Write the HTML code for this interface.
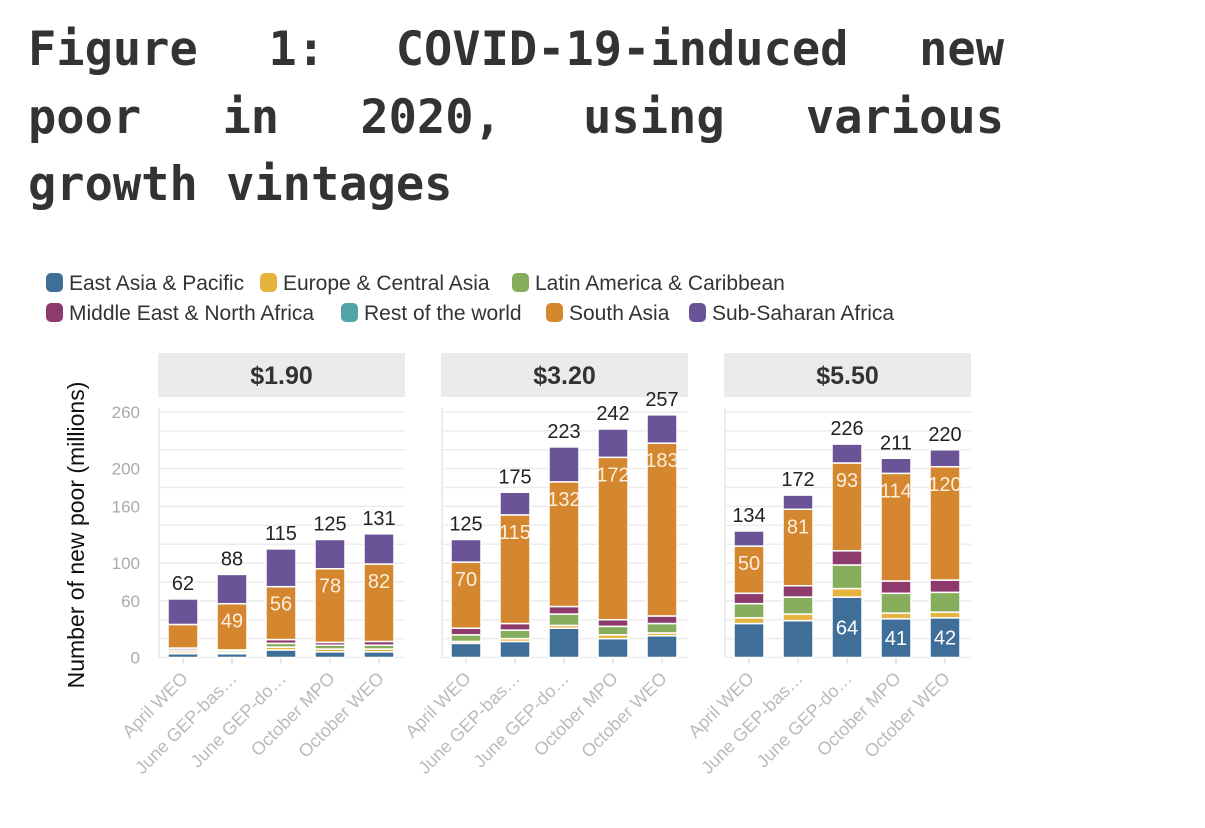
<!DOCTYPE html>
<html><head><meta charset="utf-8">
<style>
body{margin:0;background:#fff;width:1205px;height:828px;overflow:hidden;font-family:"Liberation Sans",sans-serif;}
.tl{position:absolute;left:28px;width:976px;font-family:"DejaVu Sans Mono",monospace;font-weight:bold;font-size:47px;color:#333;white-space:nowrap;}
.j{text-align:justify;text-align-last:justify;}
</style></head><body>
<div>
<div class="tl j" style="top:22px">Figure 1: COVID-19-induced new</div>
<div class="tl j" style="top:90px">poor in 2020, using various</div>
<div class="tl" style="top:157px">growth vintages</div>
</div>
<svg id="c" width="1205" height="828" style="position:absolute;left:0;top:0"></svg>
<script>
const regions=["East Asia & Pacific","Europe & Central Asia","Latin America & Caribbean","Middle East & North Africa","Rest of the world","South Asia","Sub-Saharan Africa"];
const colors=["#3f6f98","#e6b33f","#85ad5c","#8d3b6c","#52a3a6","#d5872f","#6a5397"];
const panels=["$1.90","$3.20","$5.50"];
const categories=["April WEO","June GEP-bas…","June GEP-do…","October MPO","October WEO"];
// values[panel][category]
const eap=[[4,4,8,6,6],[15,17,31,20,23],[36,39,64,41,42]];
const eca=[[2,1,3,3,3],[2,3,3,4,3],[6,7,9,6,6]];
const lac=[[2,2,4,4,4],[7,9,12,9,10],[15,18,25,21,21]];
const mena=[[2,1,4,3,4],[7,7,8,7,8],[11,12,15,13,13]];
const row=[[0,0,0,0,0],[0,0,0,0,0],[0,0,0,0,0]];
const sa=[[25,49,56,78,82],[70,115,132,172,183],[50,81,93,114,120]];
const ssa=[[27,31,40,31,32],[24,24,37,30,30],[16,15,20,16,18]];
const yTicks=[0,60,100,160,200,260];
const saLabelShown=[[0,1,1,1,1],[1,1,1,1,1],[1,1,1,1,1]];
const eapLabelShown=[[0,0,0,0,0],[0,0,0,0,0],[0,0,1,1,1]];
const series=[eap,eca,lac,mena,row,sa,ssa];

const NS="http://www.w3.org/2000/svg";
const svg=document.getElementById('c');
function mk(t,a,p){const e=document.createElementNS(NS,t);for(const k in a)e.setAttribute(k,a[k]);(p||svg).appendChild(e);return e;}
const y0=657.5,yTop=412,yMax=260;
function y(v){return y0-(v/yMax)*(y0-yTop);}
const panelX=[158,441,724],panelW=247;
function x(p,i){return panelX[p]+25+i*49;}
const bw=30;

const legPos=[[46,283],[260,283],[512,283],[46,313],[341,313],[546,313],[689,313]];
regions.forEach((r,i)=>{
  const g=mk('g',{});
  
  
  mk('rect',{x:legPos[i][0],y:legPos[i][1]-10,width:17,height:19,rx:5,fill:colors[i]},g);
  const t=mk('text',{x:legPos[i][0]+23,y:legPos[i][1]+7,'font-size':21,fill:'#333','font-family':'Liberation Sans, sans-serif'},g);
  t.textContent=r;
});

const yt=mk('text',{x:0,y:0,transform:'translate(84,535) rotate(-90)','text-anchor':'middle','font-size':23,fill:'#111'});


yt.textContent='Number of new poor (millions)';

yTicks.forEach(v=>{
  const t=mk('text',{x:140,y:y(v)+6,'text-anchor':'end','font-size':17,fill:'#aaa'});
  
  
  t.textContent=v;
});

panels.forEach((pn,p)=>{
  const g=mk('g',{});
  
  
  mk('rect',{x:panelX[p],y:353,width:panelW,height:44,fill:'#ebebeb'},g);
  const st=mk('text',{x:panelX[p]+panelW/2,y:384,'text-anchor':'middle','font-size':25,'font-weight':'bold',fill:'#333'},g);
  
  
  st.textContent=pn;
  for(let v=0;v<=260;v+=20){
    mk('line',{x1:panelX[p],x2:panelX[p]+panelW,y1:y(v),y2:y(v),stroke:'#ececec','stroke-width':1.5},g);
  }
  mk('line',{x1:panelX[p]+1,x2:panelX[p]+1,y1:yTop-4,y2:y0,stroke:'#ececec','stroke-width':2},g);
  categories.forEach((c,i)=>{
    mk('line',{x1:x(p,i),x2:x(p,i),y1:y0,y2:y0+6,stroke:'#ddd','stroke-width':1.5},g);
    let cum=0;
    series.forEach((s,k)=>{
      const v=s[p][i];
      if(v<=0)return;
      const yb=y(cum),yt2=y(cum+v);
      const r=mk('rect',{x:x(p,i)-bw/2,y:yt2,width:bw,height:Math.max(yb-yt2,0.5),fill:colors[k],stroke:'#fff','stroke-width':1.5},g);
      
      
      if(k===5&&saLabelShown[p][i]){
        const t=mk('text',{x:x(p,i),y:yt2+24,'text-anchor':'middle','font-size':20,fill:'#fbeedd'},g);
        
        
        t.textContent=v;
      }
      if(k===0&&eapLabelShown[p][i]){
        const t=mk('text',{x:x(p,i),y:(yt2+yb)/2+7,'text-anchor':'middle','font-size':20,fill:'#fff'},g);
        
        
        t.textContent=v;
      }
      cum+=v;
    });
    const tt=mk('text',{x:x(p,i),y:y(cum)-9,'text-anchor':'middle','font-size':20,fill:'#222'},g);
    
    
    tt.textContent=Math.round(cum);
    const xl=mk('text',{x:0,y:0,transform:`translate(${x(p,i)+6},${y0+22}) rotate(-45)`,'text-anchor':'end','font-size':18,fill:'#bbb'},g);
    
    
    xl.textContent=c;
  });
});
</script>
</body></html>
